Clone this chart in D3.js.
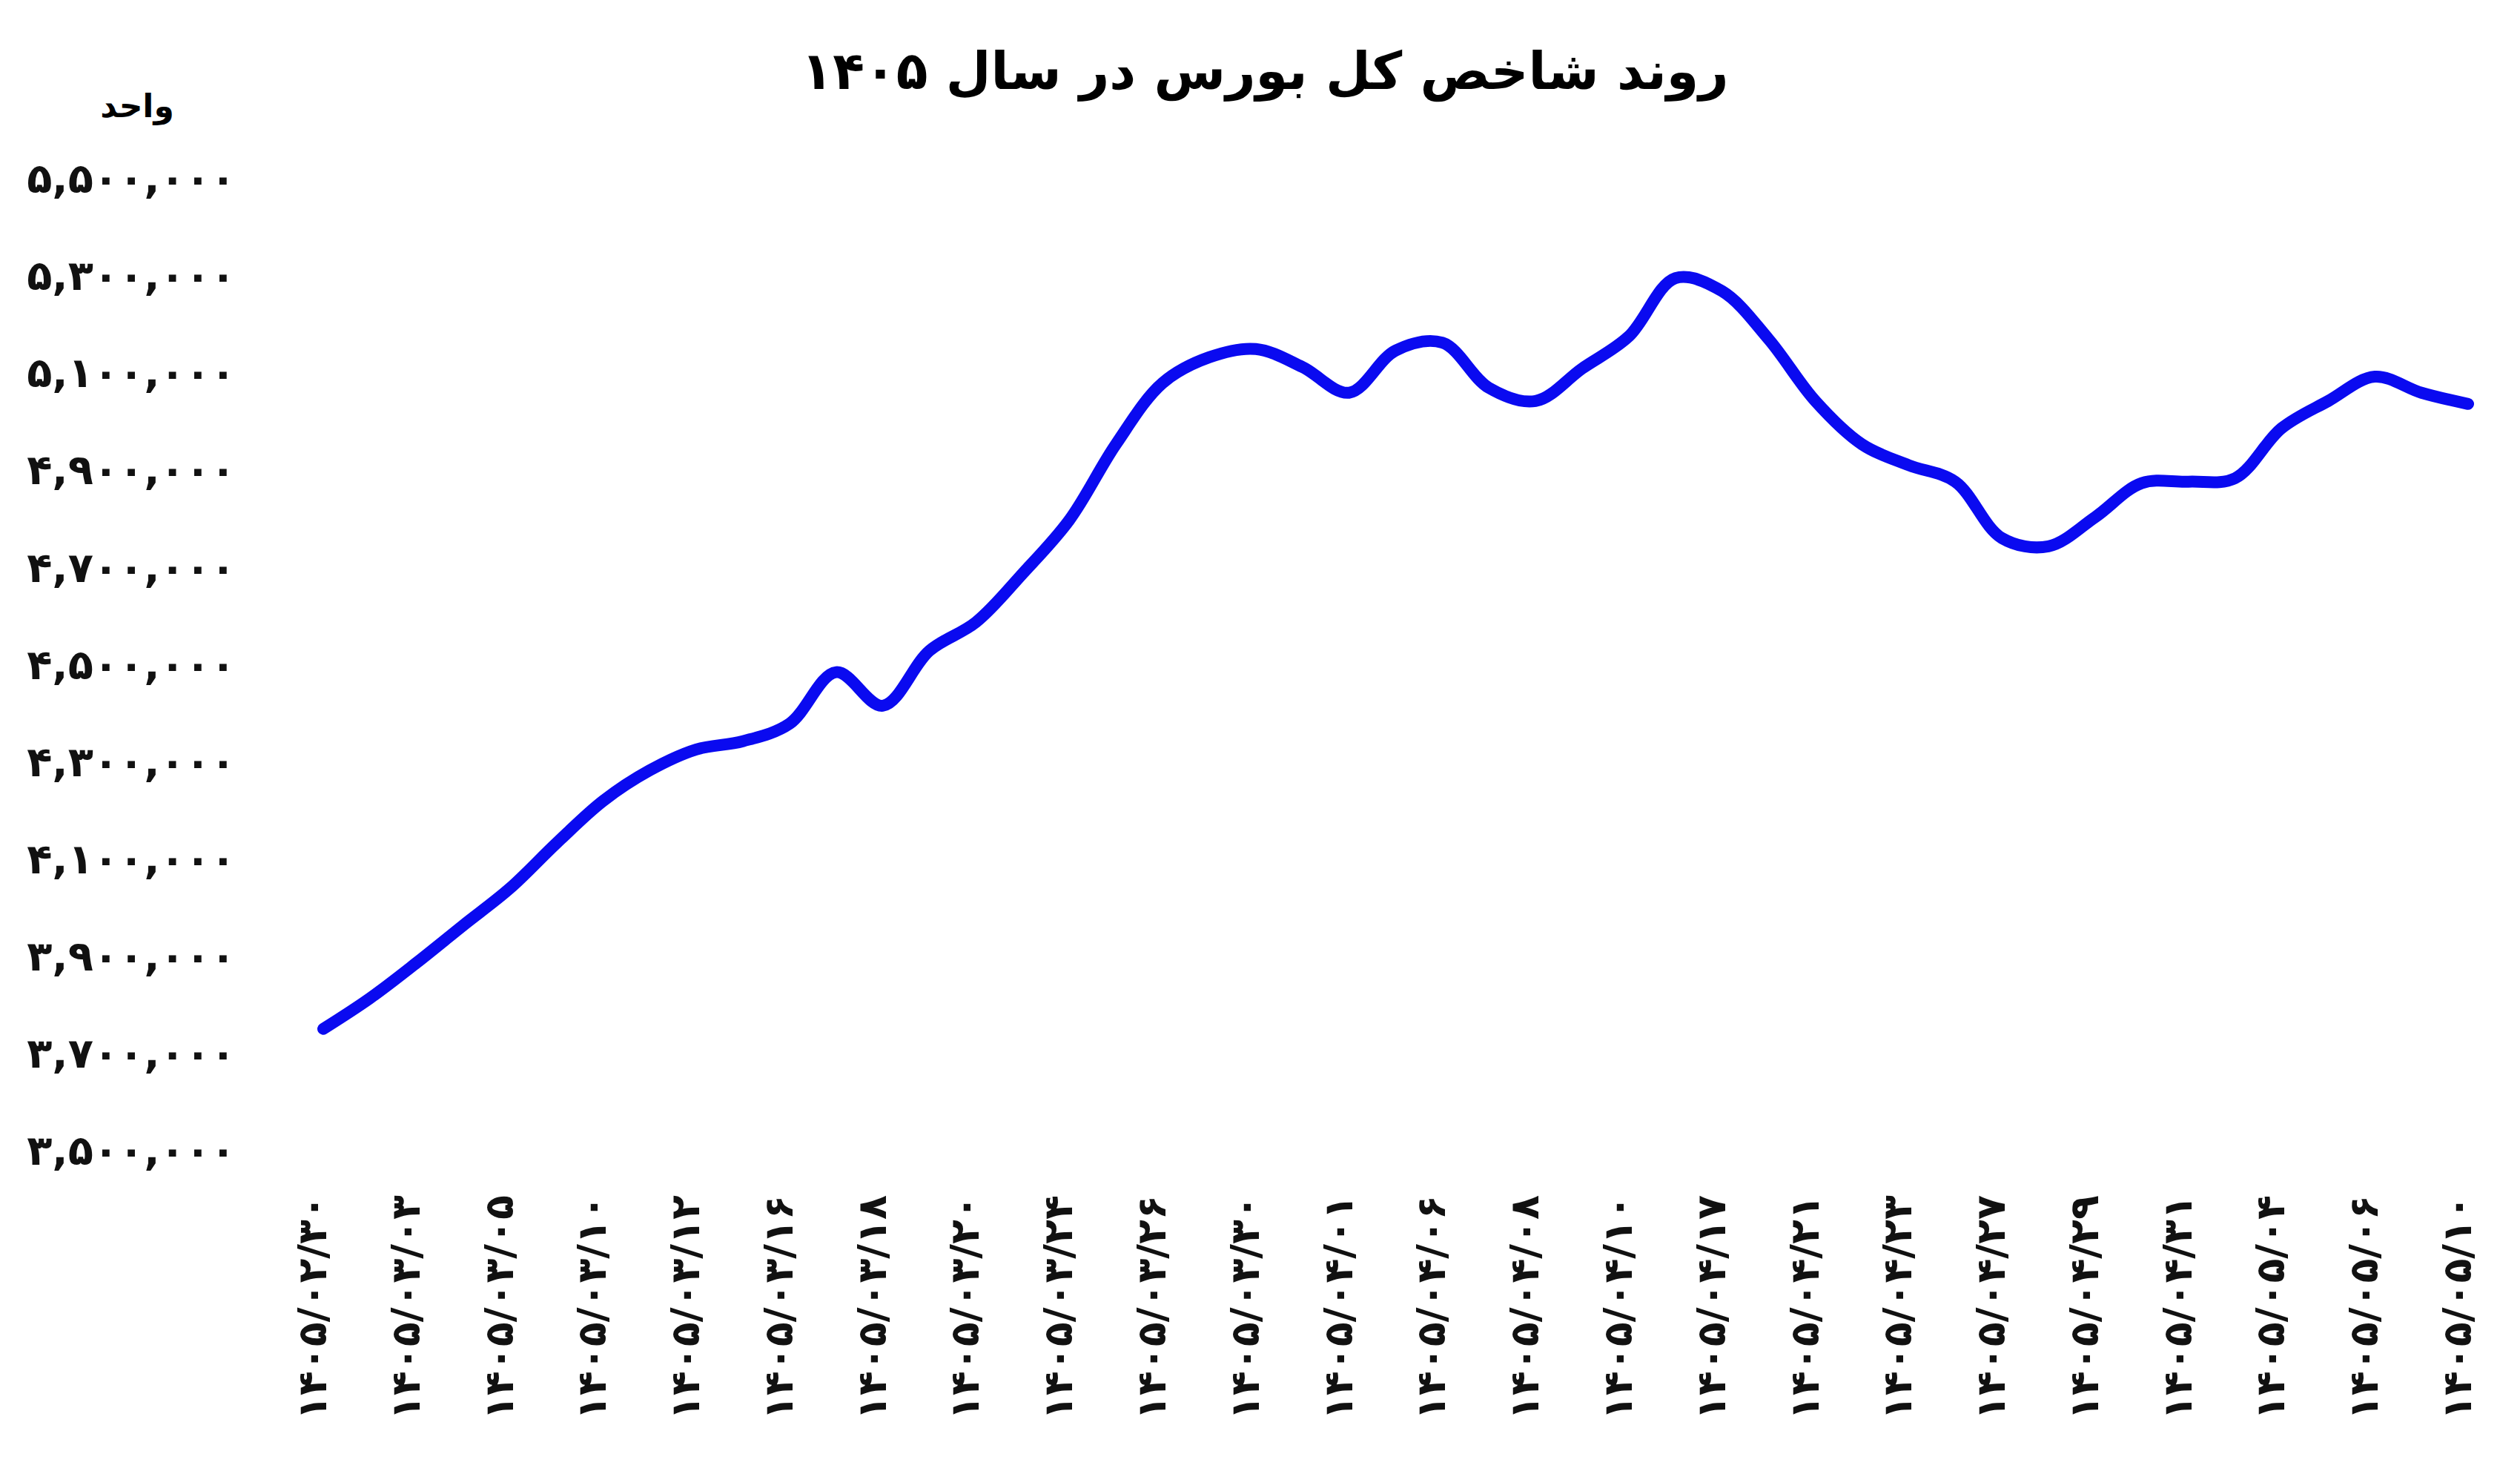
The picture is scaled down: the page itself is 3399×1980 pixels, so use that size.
<!DOCTYPE html>
<html>
<head>
<meta charset="utf-8">
<script src="https://cdn.jsdelivr.net/npm/d3@7"></script>
<style>
  body { margin: 0; background: #fff; }
  text { font-family: "DejaVu Sans", "Noto Sans", sans-serif; font-weight: bold; }
</style>
</head>
<body>
<svg id="chart" width="3399" height="1980"></svg>
<script>
// title and units
const title = "روند شاخص کل بورس در سال ۱۴۰۵";
const unit = "واحد";

// dates shown under the axis (every second data point)
const tickLabels = [
  "1405/02/30", "1405/03/03", "1405/03/05", "1405/03/10", "1405/03/12", "1405/03/16",
  "1405/03/18", "1405/03/20", "1405/03/24", "1405/03/26", "1405/03/30", "1405/04/01",
  "1405/04/06", "1405/04/08", "1405/04/10", "1405/04/17", "1405/04/21", "1405/04/23",
  "1405/04/27", "1405/04/29", "1405/04/31", "1405/05/04", "1405/05/06", "1405/05/10"
];

// index values
const values = [
  3749000, 3812000, 3885000, 3962000, 4038000, 4131000, 4218000, 4281000, 4324000, 4341000,
  4377000, 4483000, 4414000, 4527000, 4586000, 4686000, 4796000, 4952000, 5078000, 5131000,
  5148000, 5111000, 5058000, 5145000, 5161000, 5068000, 5041000, 5108000, 5174000, 5294000,
  5267000, 5168000, 5041000, 4952000, 4909000, 4875000, 4759000, 4742000, 4802000, 4872000,
  4875000, 4882000, 4985000, 5041000, 5091000, 5058000, 5035000
];

const yTicks = [3500000, 3700000, 3900000, 4100000, 4300000, 4500000, 4700000, 4900000, 5100000, 5300000, 5500000];

const fa = s => String(s).replace(/\d/g, d => "۰۱۲۳۴۵۶۷۸۹"[d]);

const svg = d3.select("#chart");

const x = d3.scaleLinear().domain([0, values.length - 1]).range([436, 3329]);
const y = d3.scaleLinear().domain([3500000, 5500000]).range([1551, 240]);

svg.append("text")
  .attr("x", 1706).attr("y", 120)
  .attr("text-anchor", "middle")
  .attr("font-size", 70)
  .text(title);

svg.append("text")
  .attr("x", 185).attr("y", 158)
  .attr("text-anchor", "middle")
  .attr("font-size", 44)
  .text(unit);

// y axis labels
const yAxis = d3.axisLeft(y).tickValues(yTicks).tickSize(0).tickPadding(0)
  .tickFormat(d => fa(d3.format(",")(d)));
svg.append("g")
  .attr("transform", "translate(318,0)")
  .call(yAxis)
  .call(g => g.select(".domain").remove())
  .call(g => g.selectAll("text")
    .attr("font-size", 56).attr("font-family", "DejaVu Sans").attr("font-weight", "bold")
    .attr("fill", "#111").attr("dy", "0.35em"));

// x axis labels (rotated)
svg.append("g")
  .selectAll("text")
  .data(tickLabels)
  .join("text")
  .attr("transform", (d, i) => `translate(${x(i * 2) + 4},1612) rotate(-90)`)
  .attr("text-anchor", "end")
  .attr("font-size", 54)
  .attr("fill", "#111")
  .text(d => fa(d));

// line
const line = d3.line()
  .x((d, i) => x(i))
  .y(d => y(d))
  .curve(d3.curveCatmullRom.alpha(0.5));

svg.append("path")
  .datum(values)
  .attr("d", line)
  .attr("fill", "none")
  .attr("stroke", "#0a0af0")
  .attr("stroke-width", 16)
  .attr("stroke-linecap", "round")
  .attr("stroke-linejoin", "round");
</script>
</body>
</html>
